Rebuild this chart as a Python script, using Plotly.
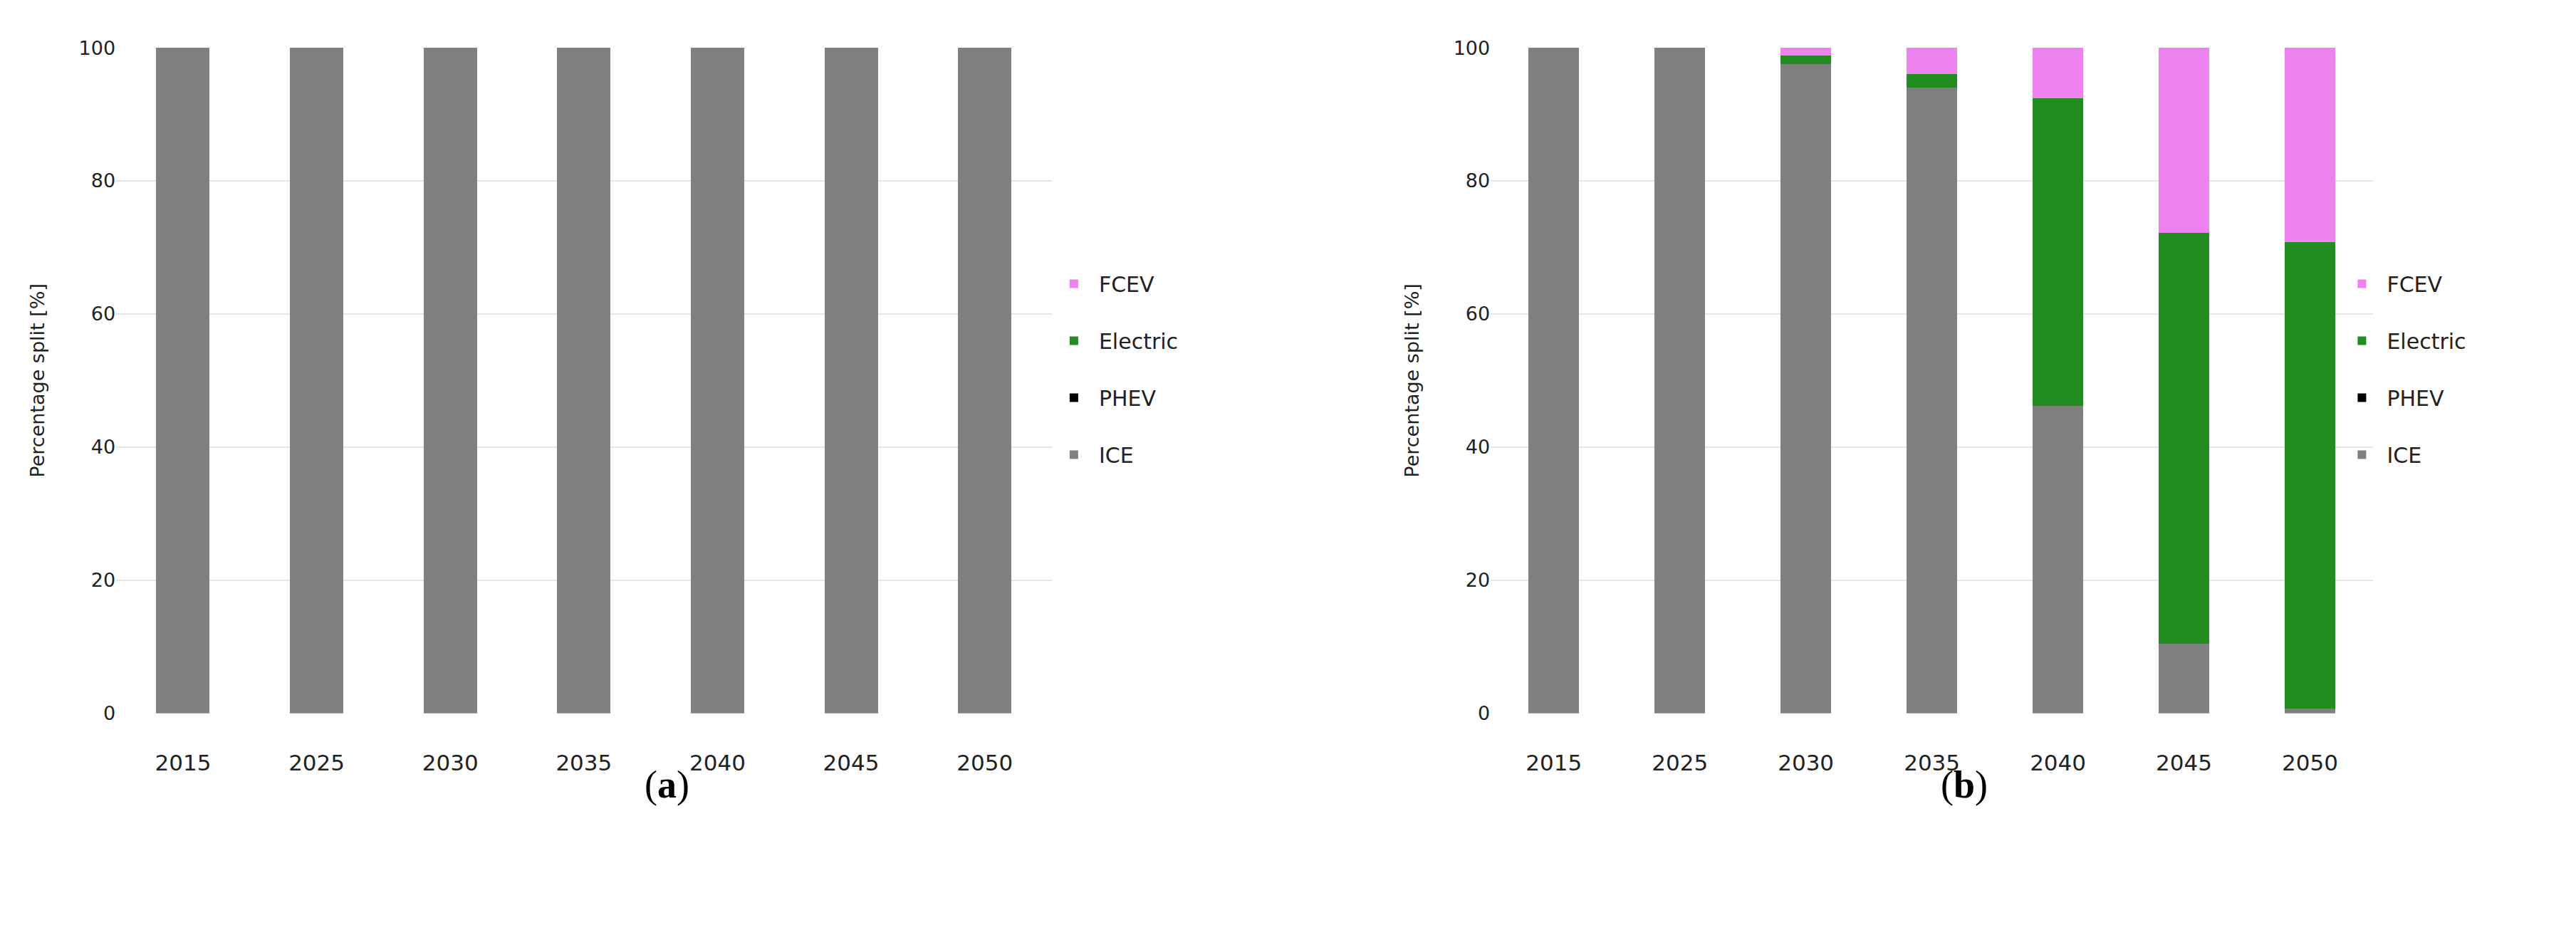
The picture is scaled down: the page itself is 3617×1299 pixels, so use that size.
import plotly.graph_objects as go

years = ['2015', '2025', '2030', '2035', '2040', '2045', '2050']

ice_a = [100, 100, 100, 100, 100, 100, 100]
phev_a = [0, 0, 0, 0, 0, 0, 0]
electric_a = [0, 0, 0, 0, 0, 0, 0]
fcev_a = [0, 0, 0, 0, 0, 0, 0]

ice_b = [100, 100, 97.5, 94, 46.2, 10.5, 0.7]
phev_b = [0, 0, 0, 0, 0, 0, 0]
electric_b = [0, 0, 1.3, 2.1, 46.2, 61.7, 70.1]
fcev_b = [0, 0, 1.2, 3.9, 7.6, 27.8, 29.2]

colors = {'ICE': 'grey', 'PHEV': 'black', 'Electric': 'forestgreen', 'FCEV': 'violet'}
ranks = {'FCEV': 1, 'Electric': 2, 'PHEV': 3, 'ICE': 4}

fig = go.Figure()

panels = [
    ('x', 'y', 'legend', [ice_a, phev_a, electric_a, fcev_a]),
    ('x2', 'y2', 'legend2', [ice_b, phev_b, electric_b, fcev_b]),
]
names = ['ICE', 'PHEV', 'Electric', 'FCEV']

for xa, ya, leg, series in panels:
    for name, values in zip(names, series):
        fig.add_trace(go.Bar(
            x = years,
            y = values,
            name = name,
            marker = dict(color = colors[name], line = dict(width = 0)),
            xaxis = xa,
            yaxis = ya,
            legend = leg,
            legendgroup = leg + name,
            legendrank = ranks[name],
        ))

axis_x = dict(
    type = 'category',
    showgrid = False,
    showline = False,
    ticks = '',
    ticklabelstandoff = 48,
    tickfont = dict(size = 31, color = '#222'),
)
axis_y = dict(
    range = [0, 100],
    tickvals = [0, 20, 40, 60, 80, 100],
    showgrid = True,
    gridcolor = '#e6e6e6',
    gridwidth = 2,
    zeroline = False,
    ticks = '',
    tickfont = dict(size = 27, color = '#222'),
    title = dict(text = 'Percentage split [%]', font = dict(size = 27, color = '#222'), standoff = 40),
)

legend_style = dict(
    traceorder = 'grouped',
    tracegroupgap = 38,
    font = dict(size = 30, color = '#222'),
    itemwidth = 60,
    yanchor = 'middle',
    y = 0.61,
    xanchor = 'left',
    bgcolor = 'rgba(0,0,0,0)',
)

fig.update_layout(
    width = 3617,
    height = 1299,
    autosize = False,
    margin = dict(l = 0, r = 0, t = 0, b = 0),
    plot_bgcolor = 'white',
    paper_bgcolor = 'white',
    font = dict(family = 'DejaVu Sans'),
    barmode = 'stack',
    bargap = 0.6,
    xaxis = dict(axis_x, domain = [0.0429, 0.406], anchor = 'y'),
    yaxis = dict(axis_y, domain = [0.229, 0.966], anchor = 'x'),
    xaxis2 = dict(axis_x, domain = [0.5765, 0.919], anchor = 'y2'),
    yaxis2 = dict(axis_y, domain = [0.229, 0.966], anchor = 'x2'),
    legend = dict(legend_style, x = 0.405),
    legend2 = dict(legend_style, x = 0.905),
    annotations = [
        dict(text = '(<b>a</b>)', x = 0.2475, y = 0.125, xref = 'paper', yref = 'paper',
             showarrow = False, font = dict(family = 'Liberation Serif', size = 54, color = 'black')),
        dict(text = '(<b>b</b>)', x = 0.770, y = 0.125, xref = 'paper', yref = 'paper',
             showarrow = False, font = dict(family = 'Liberation Serif', size = 54, color = 'black')),
    ],
)

fig.write_html('out.html')
